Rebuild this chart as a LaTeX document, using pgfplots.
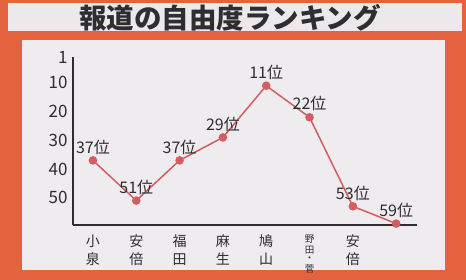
\documentclass[border=0pt]{standalone}
\usepackage{pgfplots}
\pgfplotsset{compat=1.18}
\usepackage{fontspec}
\setmainfont{Noto Sans CJK JP}
\definecolor{bgorange}{RGB}{228,98,62}
\definecolor{panel}{RGB}{238,236,238}
\definecolor{titleband}{RGB}{236,233,236}
\definecolor{linec}{RGB}{212,92,98}
\definecolor{textc}{RGB}{45,45,50}
\begin{document}
\begin{tikzpicture}[x=1pt,y=1pt]
\fill[bgorange] (0,0) rectangle (466,280);
\useasboundingbox (0,0) rectangle (466,280);
\fill[titleband] (8,249) rectangle (462,277);
\fill[panel] (22,10) rectangle (445,240);
\node[font=\bfseries\fontsize{27.5}{27.5}\selectfont, text=textc] at (230,262.5) {報道の自由度ランキング};
\begin{axis}[
  at={(73pt,55pt)}, anchor=south west,
  scale only axis, width=344pt, height=168pt,
  xmin=-0.46, xmax=7.48, ymin=1, ymax=59.5, y dir=reverse,
  axis lines=left,
  axis line style={-, draw=textc, line width=1.2pt},
  ytick={1,10,20,30,40,50},
  xtick={0,1,2,3,4,5,6},
  xticklabels={小\\泉, 安\\倍, 福\\田, 麻\\生, 鳩\\山, {\raisebox{3pt}{\fontsize{9.5}{9.5}\selectfont\shortstack{野\\田\\・\\菅}}}, 安\\倍},
  major tick length=0pt,
  tick style={draw=none},
  /pgf/number format/assume math mode=true,
  yticklabel style={font=\fontsize{17}{17}\selectfont, text=textc, xshift=-2pt},
  xticklabel style={align=center, font=\fontsize{14}{18}\selectfont, text=textc, anchor=north, yshift=-6pt},
  clip=false,
  nodes near coords={\pgfmathprintnumber{\pgfplotspointmeta}位},
  point meta=y,
  every node near coord/.append style={font=\fontsize{16}{16}\selectfont, text=textc, anchor=south, yshift=2pt},
]
\addplot[color=linec, line width=1.5pt, mark=*, mark size=3.5pt, mark options={fill=linec, draw=linec}]
  coordinates {(0,37) (1,51) (2,37) (3,29) (4,11) (5,22) (6,53) (7,59)};
\end{axis}
\end{tikzpicture}
\end{document}
